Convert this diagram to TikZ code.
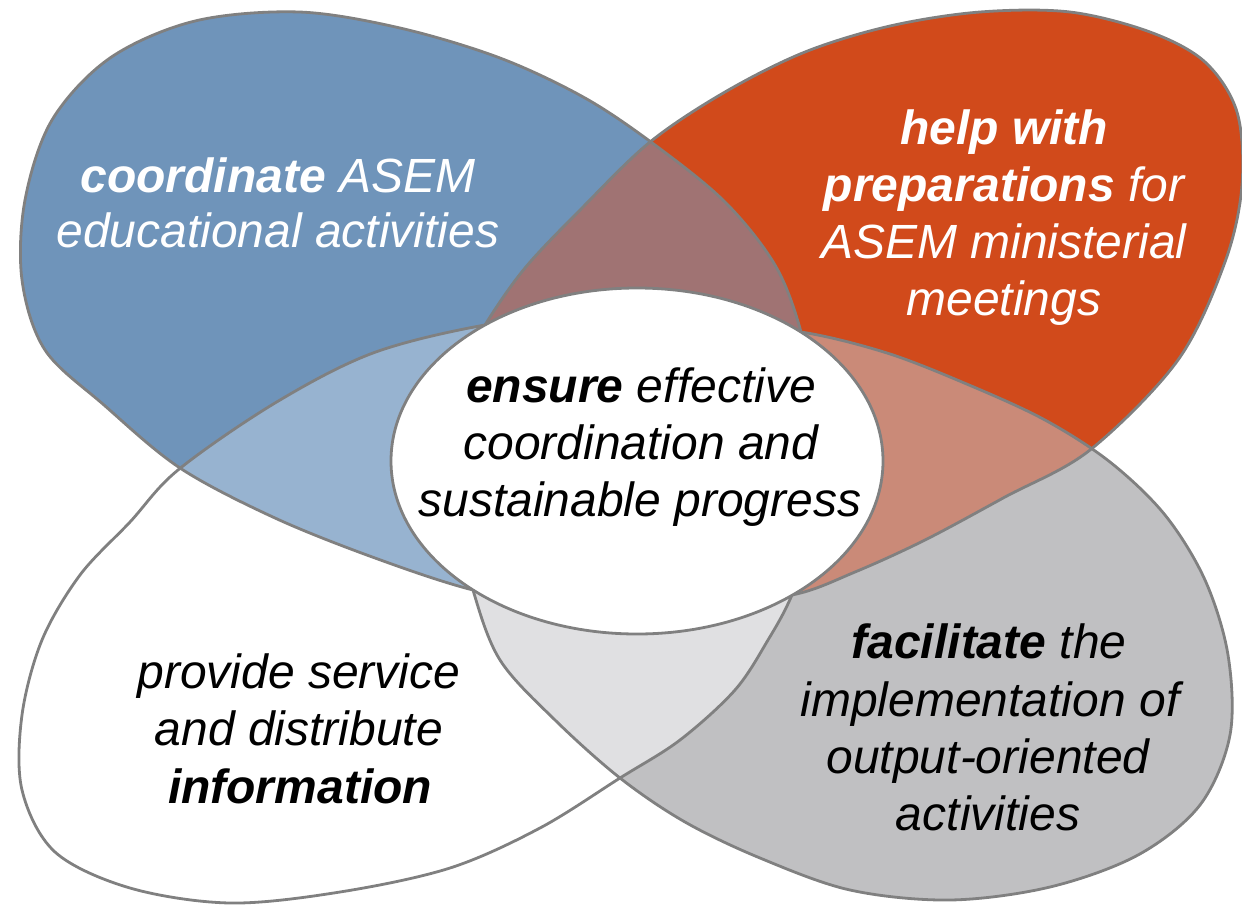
\documentclass[tikz,border=0pt]{standalone}
\usepackage{fontspec}
\setmainfont{Liberation Sans}
\definecolor{blueC}{RGB}{111,148,186}
\definecolor{orangeC}{RGB}{209,74,27}
\definecolor{mauveC}{RGB}{160,115,115}
\definecolor{lblueC}{RGB}{151,179,208}
\definecolor{salmonC}{RGB}{202,138,120}
\definecolor{grayC}{RGB}{192,192,194}
\definecolor{lgrayC}{RGB}{224,224,226}
\definecolor{lineC}{RGB}{128,128,128}
\begin{document}
\begin{tikzpicture}[x=0.5pt,y=-0.5pt,
  petal/.style={draw=lineC, line width=1.4pt},
  txt/.style={anchor=base, inner sep=0pt, font=\fontsize{24}{28}\selectfont\itshape}]
\useasboundingbox (0,0) rectangle (1242,905);
\def\bluepath{plot[smooth cycle, tension=0.55] coordinates {(180,468) (104,405) (45,350) (22,280) (25,200) (52,120) (110,58) (195,21) (299,12) (400,28) (500,58) (585,98) (655,145) (725,202) (775,265) (801,332) (815,410) (805,490) (755,560) (665,600) (565,606) (473,590) (375,558) (275,518)}}
\def\orangepath{plot[smooth cycle, tension=0.55] coordinates {(485,325) (525,268) (582,208) (650,142) (725,92) (805,52) (890,26) (980,12) (1070,12) (1150,32) (1205,62) (1237,112) (1242,185) (1225,262) (1178,360) (1090,450) (1005,497) (925,540) (855,572) (792,595) (700,603) (600,580) (515,520) (470,440) (462,370)}}
\def\graypath{plot[smooth cycle, tension=0.55] coordinates {(801,332) (887,353) (969,385) (1045,420) (1110,462) (1165,515) (1205,580) (1228,655) (1230,735) (1200,805) (1138,855) (1050,887) (950,900) (850,890) (760,858) (685,822) (620,778) (555,720) (500,660) (473,590) (458,520) (485,445) (545,385) (630,345) (720,328)}}
\def\whitepath{plot[smooth cycle, tension=0.55] coordinates {(178,470) (275,403) (373,353) (485,325) (580,316) (680,332) (770,370) (820,430) (825,510) (792,595) (768,640) (735,690) (680,740) (620,778) (540,828) (450,868) (340,892) (230,903) (130,888) (55,852) (22,790) (22,715) (42,640) (80,575) (130,522)}}
% base fills
\fill[blueC] \bluepath;
\fill[orangeC] \orangepath;
\fill[grayC] \graypath;
\fill[white] \whitepath;
% overlaps
\begin{scope}
  \clip \bluepath;
  \fill[mauveC] \orangepath;
  \fill[lblueC] \whitepath;
\end{scope}
\begin{scope}
  \clip \graypath;
  \fill[salmonC] \orangepath;
  \fill[lgrayC] \whitepath;
\end{scope}
% outlines
\draw[petal] \bluepath;
\draw[petal] \orangepath;
\draw[petal] \graypath;
\draw[petal] \whitepath;
% centre
\draw[petal, fill=white] (637,461) ellipse [x radius=246, y radius=173];
% texts
\node[txt, text=white] (b1) at (278,192) {\textbf{coordinate} ASEM};
\node[txt, text=white] (b2) at (278,247) {educational activities};
\node[txt, text=white] (o1) at (1004,144) {\textbf{help with}};
\node[txt, text=white] (o2) at (1004,201) {\textbf{preparations} for};
\node[txt, text=white] (o3) at (1004,258) {ASEM ministerial};
\node[txt, text=white] (o4) at (1004,315) {meetings};
\node[txt] (c1) at (641,402) {\textbf{ensure} effective};
\node[txt] (c2) at (641,459) {coordination and};
\node[txt] (c3) at (640,516) {sustainable progress};
\node[txt] (w1) at (299,688) {provide service};
\node[txt] (w2) at (299,745) {and distribute};
\node[txt] (w3) at (300,803) {\textbf{information}};
\node[txt] (g1) at (989,658) {\textbf{facilitate} the};
\node[txt] (g2) at (990,716) {implementation of};
\node[txt] (g3) at (988,773) {output-oriented};
\node[txt] (g4) at (988,830) {activities};
\end{tikzpicture}
\end{document}
